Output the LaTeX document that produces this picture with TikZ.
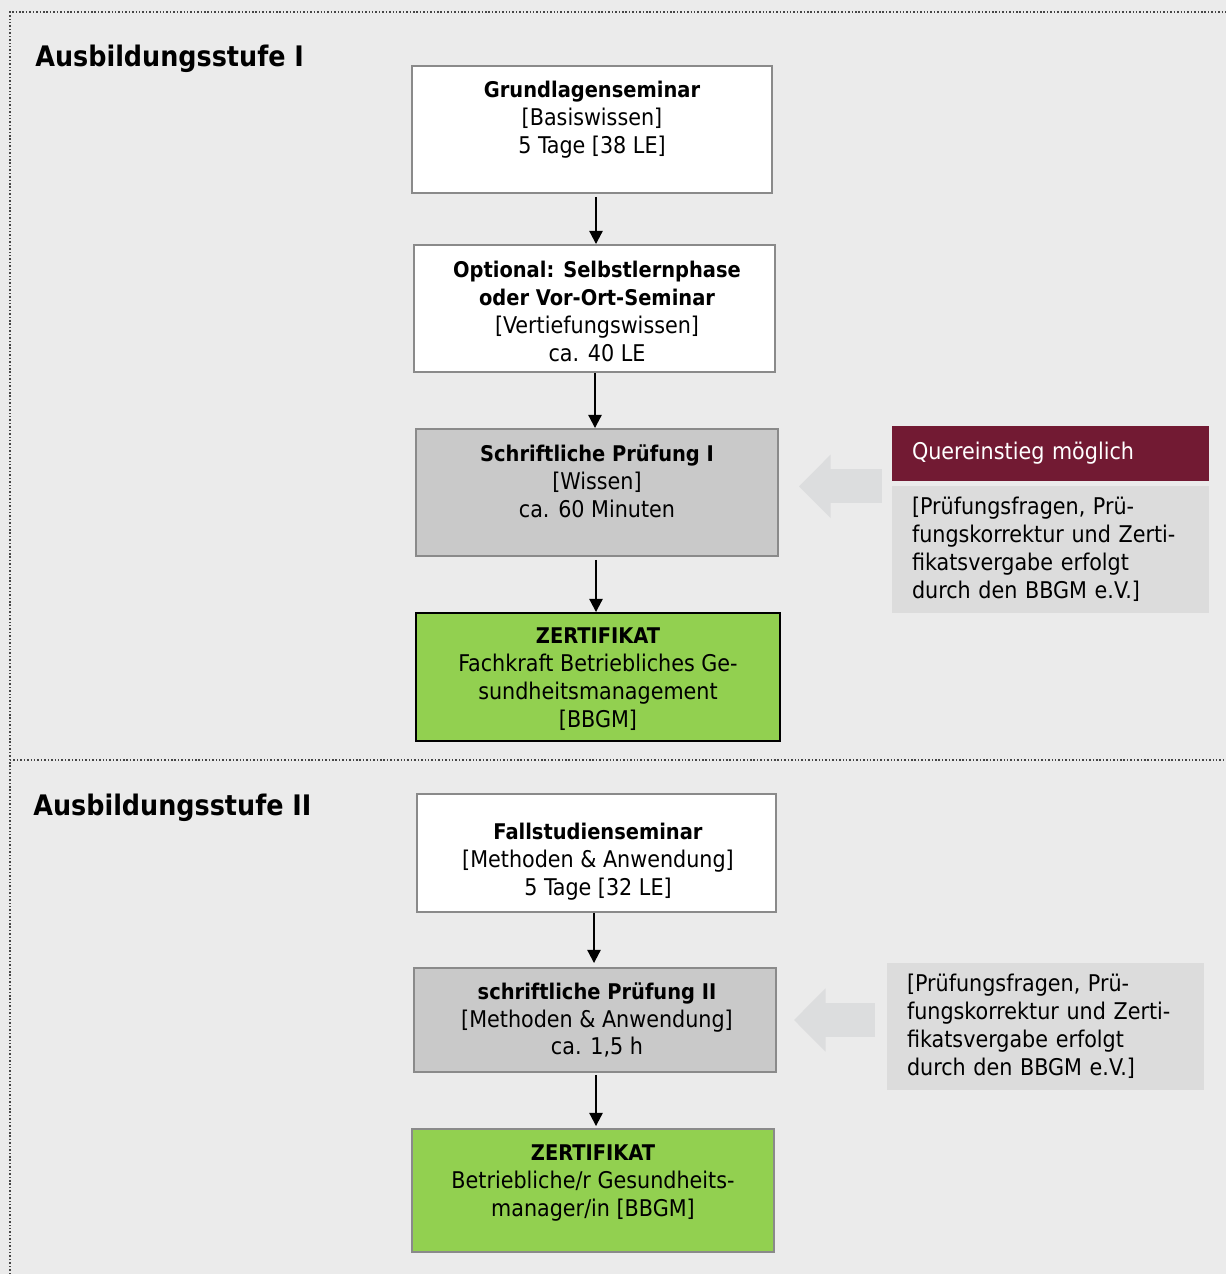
\documentclass[tikz,border=0pt]{standalone}
\usepackage{fontspec}
\setmainfont{DejaVu Sans Condensed}
\usepackage{xcolor}
\definecolor{bbgmbg}{RGB}{235,235,235}
\definecolor{bbgmframe}{RGB}{138,138,138}
\definecolor{bbgmexam}{RGB}{201,201,201}
\definecolor{bbgmgreen}{RGB}{146,208,80}
\definecolor{bbgmred}{RGB}{114,26,51}
\definecolor{bbgminfo}{RGB}{220,220,220}
\definecolor{bbgmarrow}{RGB}{220,221,222}
\definecolor{bbgmdots}{RGB}{70,70,70}
\usetikzlibrary{arrows.meta, positioning, calc}
\newcommand{\boxhead}[1]{{\fontsize{12.3}{15.9}\selectfont\bfseries #1}}

\begin{document}
\begin{tikzpicture}[x=0.02cm, y=-0.02cm, font=\fontsize{13.1}{15.9}\selectfont,
  stepbox/.style={draw=bbgmframe, line width=1.1pt, fill=white, minimum width=7.2cm, minimum height=2.54cm, inner sep=0pt},
  exambox/.style={stepbox, fill=bbgmexam},
  certbox/.style={stepbox, fill=bbgmgreen},
  boxtext/.style={align=center, inner sep=0pt},
  stage/.style={anchor=west, inner sep=0pt, font=\fontsize{16.1}{20}\selectfont\bfseries},
  infobox/.style={fill=bbgminfo, minimum width=6.34cm, minimum height=2.54cm, text width=5.54cm, inner xsep=0.4cm, align=left},
  arr/.style={-{Triangle[length=7.5pt,width=7.5pt]}, line width=1.2pt},
  bigarrow/.style={bbgmarrow, line width=19.3pt, -{Triangle[length=18pt,width=35pt]}},
  dotline/.style={bbgmdots, line width=0.85pt, dash pattern=on 0.85pt off 1.1pt}
]

% --- background and frame ---
\fill[bbgmbg] (0,0) rectangle (1226,1274);
\useasboundingbox (0,0) rectangle (1226,1274);
\draw[dotline] (10,1274) -- (10,12) -- (1226,12);
\draw[dotline] (10,760) -- (1226,760);

% --- Stufe I ---
\node[stage] (stufe1) at (35,59) {Ausbildungsstufe I};

\node[stepbox] (grund) at (592,129.5) {};
\node[boxtext] (grund-t) at (592,119.5) {\boxhead{Grundlagenseminar}\\{}[Basiswissen]\\5 Tage [38 LE]};

\node[stepbox, minimum width=7.22cm] (selbst) at (594.5,308.5) {};
\node[boxtext] (selbst-t) at (597,311.5) {\boxhead{Optional: Selbstlernphase}\\\boxhead{oder Vor-Ort-Seminar}\\{}[Vertiefungswissen]\\ca. 40 LE};

\node[exambox, minimum width=7.24cm] (pruef1) at (597,492.5) {};
\node[boxtext] (pruef1-t) at (597,481) {\boxhead{Schriftliche Prüfung I}\\{}[Wissen]\\ca. 60 Minuten};

\node[certbox, draw=black, minimum width=7.28cm, minimum height=2.56cm] (zert1) at (598,677) {};
\node[boxtext] (zert1-t) at (598,679) {\boxhead{ZERTIFIKAT}\\Fachkraft Betriebliches Ge-\\sundheitsmanagement\\{}[BBGM]};

\draw[arr] ($(grund.south)+(4,3)$) -- ($(grund.south |- selbst.north)+(4,0)$);
\draw[arr] ($(selbst.south)+(0.5,0)$) -- ($(selbst.south |- pruef1.north)+(0.5,0)$);
\draw[arr] ($(pruef1.south)+(-1,3)$) -- ($(pruef1.south |- zert1.north)+(-1,0)$);

% Quereinstieg
\node[fill=bbgmred, text=white, minimum width=6.34cm, minimum height=1.1cm, text width=5.54cm, inner xsep=0.4cm, align=left] (quer) at (1050.5,453.5) {Quereinstieg möglich};
\node[infobox] (info1) at (1050.5,549.5) {[Prüfungsfragen, Prü-\\fungskorrektur und Zerti-\\fikatsvergabe erfolgt\\durch den BBGM e.V.]};
\draw[bigarrow] ($(info1.west |- quer.south)+(-10,5)$) -- ($(pruef1.east |- quer.south)+(20,5)$);

% --- Stufe II ---
\node[stage] (stufe2) at (33,808) {Ausbildungsstufe II};

\node[stepbox, minimum width=7.18cm, minimum height=2.36cm] (fall) at (596.5,853) {};
\node[boxtext] (fall-t) at (598,862) {\boxhead{Fallstudienseminar}\\{}[Methoden \& Anwendung]\\5 Tage [32 LE]};

\node[exambox, minimum width=7.24cm, minimum height=2.08cm] (pruef2) at (595,1020) {};
\node[boxtext] (pruef2-t) at (597,1020) {\boxhead{schriftliche Prüfung II}\\{}[Methoden \& Anwendung]\\ca. 1,5 h};

\node[certbox, minimum width=7.24cm, minimum height=2.46cm] (zert2) at (593,1190.5) {};
\node[boxtext] (zert2-t) at (593,1183) {\boxhead{ZERTIFIKAT}\\Betriebliche/r Gesundheits-\\manager/in [BBGM]};

\draw[arr] ($(fall.south)+(-2.5,0)$) -- ($(fall.south |- pruef2.north)+(-2.5,-4)$);
\draw[arr] ($(pruef2.south)+(1,2)$) -- ($(pruef2.south |- zert2.north)+(1,-2)$);

\node[infobox] (info2) at (1045.5,1026.5) {[Prüfungsfragen, Prü-\\fungskorrektur und Zerti-\\fikatsvergabe erfolgt\\durch den BBGM e.V.]};
\draw[bigarrow] ($(info2.west |- pruef2.east)+(-12,0)$) -- ($(pruef2.east)+(17,0)$);

\end{tikzpicture}
\end{document}
